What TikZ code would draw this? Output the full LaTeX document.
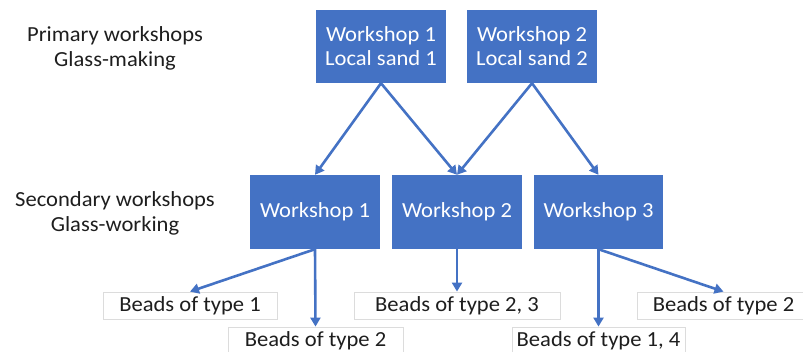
\documentclass[tikz,border=0pt]{standalone}
\usepackage{fontspec}
\setmainfont{Carlito}[FakeStretch=1.05]
\usetikzlibrary{arrows.meta}
\definecolor{wsblue}{HTML}{4472C4}
\definecolor{beadgray}{HTML}{DCDCDC}
\definecolor{labeltxt}{HTML}{1E1E1E}
\tikzset{
  wsbox/.style={draw=none, fill=wsblue, text=white, align=center, inner sep=0pt,
    minimum height=73pt, font=\fontsize{21.5}{24}\selectfont},
  beadbox/.style={draw=beadgray, line width=0.8pt, fill=white, text=labeltxt, inner sep=0pt,
    minimum height=27pt, font=\fontsize{21.5}{24}\selectfont},
  lvl/.style={align=center, text=labeltxt, inner sep=0pt, font=\fontsize{21.5}{25}\selectfont},
  flow/.style={draw=wsblue, line width=2.6pt, -{Triangle[length=9pt,width=10pt]}}
}
\begin{document}
\begin{tikzpicture}[x=1pt,y=-1pt]
\useasboundingbox (0,0) rectangle (803,352);
\begin{scope}
\clip (0,0) rectangle (803,352);
% level labels
\node[lvl] (lp) at (115,48) {Primary workshops\\Glass-making};
\node[lvl] (ls) at (115,213) {Secondary workshops\\Glass-working};
% primary workshops
\node[wsbox, minimum width=130pt] (p1) at (381,46.5) {Workshop 1\\Local sand 1};
\node[wsbox, minimum width=130pt] (p2) at (532,46.5) {Workshop 2\\Local sand 2};
% secondary workshops
\node[wsbox, minimum width=130pt, minimum height=74pt] (s1) at (315,212) {Workshop 1};
\node[wsbox, minimum width=130pt, minimum height=74pt] (s2) at (457,212) {Workshop 2};
\node[wsbox, minimum width=129pt, minimum height=74pt] (s3) at (598.5,212) {Workshop 3};
% beads
\node[beadbox, minimum width=174pt] (b1) at (190,305.5) {Beads of type 1};
\node[beadbox, minimum width=175pt] (b2) at (315.5,340.5) {Beads of type 2};
\node[beadbox, minimum width=206pt] (b23) at (457,305.5) {Beads of type 2, 3};
\node[beadbox, minimum width=173pt] (b14) at (598.5,340.5) {Beads of type 1, 4};
\node[beadbox, minimum width=173pt] (b2r) at (723.5,305.5) {Beads of type 2};
% connectors
\draw[flow] (p1.south) -- (s1.north);
\draw[flow] (p1.south) -- (s2.north);
\draw[flow] (p2.south) -- (s2.north);
\draw[flow] (p2.south) -- (s3.north);
\draw[flow] (s1.south) -- (b1.north);
\draw[flow] (s1.south) -- (b2.north);
\draw[flow] (s2.south) -- (b23.north);
\draw[flow] (s3.south) -- (b14.north);
\draw[flow] (s3.south) -- (b2r.north);
\end{scope}
\end{tikzpicture}
\end{document}
